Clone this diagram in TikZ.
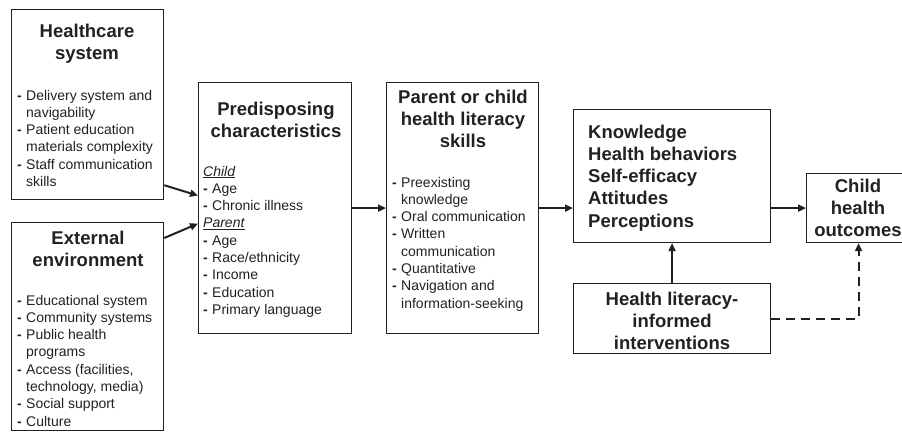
\documentclass[tikz,border=0pt]{standalone}
\usepackage{fontspec}
\setmainfont{Liberation Sans}
\usetikzlibrary{arrows.meta,calc}
\definecolor{ink}{gray}{0.13}
% list bullet (bold dash) and hanging indent for wrapped lines
\newcommand{\itm}{\makebox[9pt][l]{\textbf{-}}}
\newcommand{\cont}{\hspace*{9pt}}
\begin{document}
\begin{tikzpicture}[x=1pt,y=-1pt,
  box/.style={draw=ink,line width=1.2pt,anchor=north west,inner sep=0pt},
  head/.style={font=\bfseries\fontsize{18.5}{22.3}\selectfont,align=center,anchor=base,inner sep=0pt,text=ink},
  body/.style={font=\fontsize{14}{17.3}\selectfont,align=left,anchor=base west,inner sep=0pt,text=ink},
  arr/.style={line width=2pt,draw=ink,-{Triangle[length=8pt,width=7pt]}},
  dasharr/.style={arr,dash pattern=on 9pt off 6pt},
]
\useasboundingbox (0,0) rectangle (902,432);

% boxes
\node[box,minimum width=152pt,minimum height=190pt] (hc) at (11,9) {};
\node[box,minimum width=152pt,minimum height=208pt] (ext) at (11,222) {};
\node[box,minimum width=153pt,minimum height=251pt] (pre) at (198,82) {};
\node[box,minimum width=152pt,minimum height=251pt] (par) at (386,82) {};
\node[box,minimum width=197pt,minimum height=133pt] (know) at (573,109) {};
\node[box,minimum width=104pt,minimum height=69pt] (child) at (806,173) {};
\node[box,minimum width=197pt,minimum height=70pt] (int) at (573,283) {};

% texts (each placed by the baseline of its last line)
\node[head] (hcT) at (87,59.3) {Healthcare\\system};
\node[body] (hcB) at (17,186.5) {\itm Delivery system and\\\cont navigability\\\itm Patient education\\\cont materials complexity\\\itm Staff communication\\\cont skills};

\node[head] (extT) at (88,266.3) {External\\environment};
\node[body] (extB) at (17,426.1) {\itm Educational system\\\itm Community systems\\\itm Public health\\\cont programs\\\itm Access (facilities,\\\cont technology, media)\\\itm Social support\\\itm Culture};

\node[head] (preT) at (276,137.3) {Predisposing\\characteristics};
\node[body] (preB) at (203,314.4) {\underline{\textit{Child}}\\\itm Age\\\itm Chronic illness\\\underline{\textit{Parent}}\\\itm Age\\\itm Race/ethnicity\\\itm Income\\\itm Education\\\itm Primary language};

\node[head] (parT) at (463,147.6) {Parent or child\\health literacy\\skills};
\node[body] (parB) at (392,308.1) {\itm Preexisting\\\cont knowledge\\\itm Oral communication\\\itm Written\\\cont communication\\\itm Quantitative\\\itm Navigation and\\\cont information-seeking};

\node[head,align=left,anchor=base west] (knowT) at (588,227.2) {Knowledge\\Health behaviors\\Self-efficacy\\Attitudes\\Perceptions};
\node[head] (childT) at (858,236.6) {Child\\health\\outcomes};
\node[head] (intT) at (672,349.6) {Health literacy-\\informed\\interventions};

% connectors
\draw[arr] ($(hc.south east)+(0,-15)$) -- ($(pre.west)+(0,-12.5)$);
\draw[arr] ($(ext.north east)+(0,16)$) -- ($(pre.west)+(0,15.5)$);
\draw[arr] (pre.east) -- (par.west);
\draw[arr] (par.east) -- (par.east -| know.west);
\draw[arr] (know.east |- child.west) -- (child.west);
\draw[arr] (int.north) -- (know.south);
\draw[dasharr] (int.east) -| (child.south);
\end{tikzpicture}
\end{document}
